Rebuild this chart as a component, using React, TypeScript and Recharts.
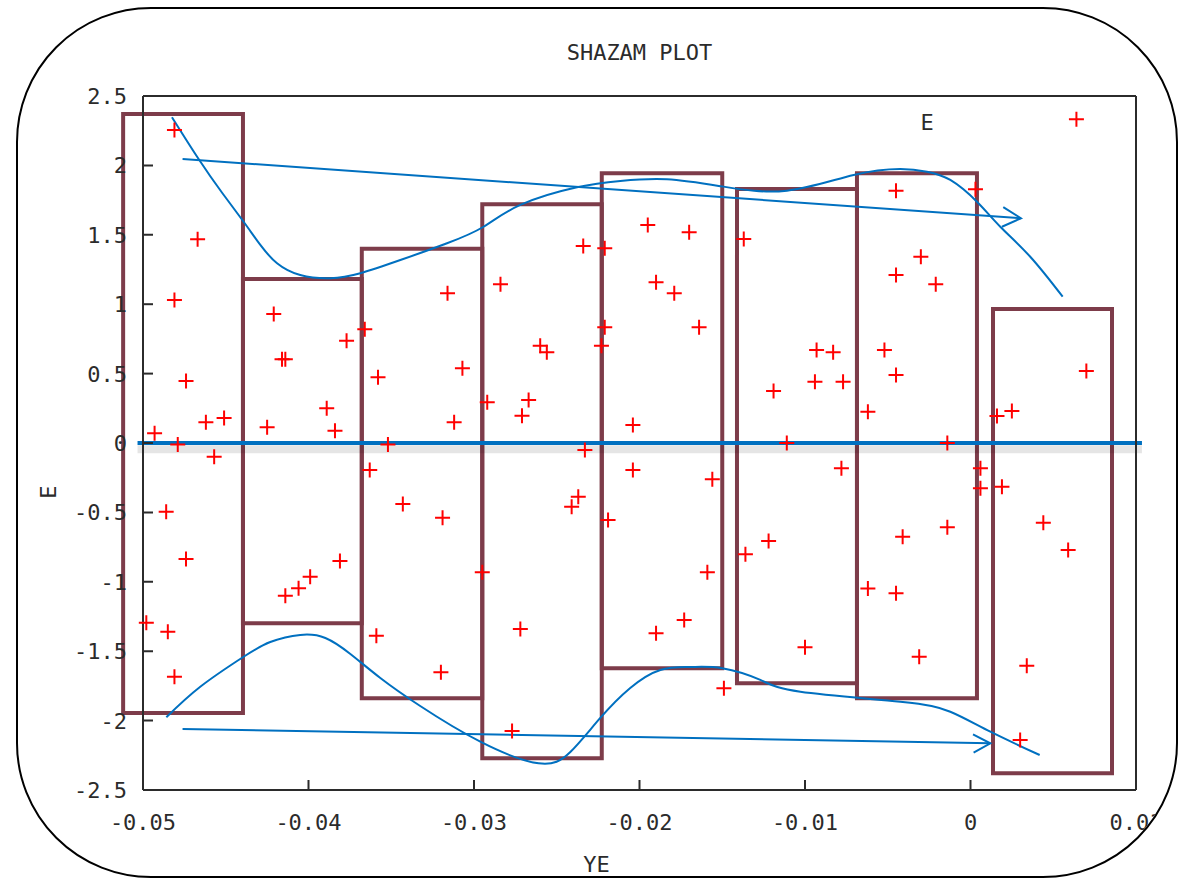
import {
  ComposedChart,
  Line,
  ReferenceArea,
  ReferenceLine,
  Scatter,
  XAxis,
  YAxis,
} from 'recharts'

const W = 1184
const H = 880
const FONT = '"DejaVu Sans Mono", "Liberation Mono", monospace'
const INK = '#2b2b2b'
const BLUE = '#0070c0'
const MAROON = '#7d3c4a'
const TICK = 10

const xTicks = [-0.05, -0.04, -0.03, -0.02, -0.01, 0, 0.01]
const yTicks = [-2.5, -2, -1.5, -1, -0.5, 0, 0.5, 1, 1.5, 2, 2.5]

// observations: YE on x, E on y
const ye = [
  -0.0481, -0.0467, -0.0481, -0.0474, -0.0462, -0.0451, -0.0493, -0.0479, -0.0457, -0.0486, -0.0474, -0.0498, -0.0485, -0.0481,
  -0.0421, -0.0416, -0.0414, -0.0425, -0.0389, -0.0384, -0.0377, -0.0366, -0.0358, -0.0352, -0.0414, -0.0406, -0.0399, -0.0381, -0.0363, -0.0359,
  -0.0316, -0.0307, -0.0312, -0.0284, -0.0292, -0.0267, -0.0271, -0.026, -0.0256, -0.0234, -0.0221, -0.0221, -0.0223, -0.0233, -0.0204, -0.0195,
  -0.0343, -0.0319, -0.0295, -0.032, -0.0272, -0.0277, -0.0237, -0.0241, -0.0219, -0.0204,
  -0.017, -0.019, -0.0179, -0.0164, -0.0137, -0.0093, -0.0083, -0.0094, -0.0077, -0.0119, -0.0062, -0.0045, -0.0045, -0.0052, -0.0045, -0.0111,
  -0.0156, -0.0159, -0.0173, -0.019, -0.0149, -0.0078, -0.0136, -0.0122, -0.01, -0.0062, -0.0045,
  0.0064, 0.0003, -0.003, -0.0021, 0.007, 0.0016, 0.0025, -0.0014, 0.0006, 0.0006, 0.0019, -0.0041, -0.0014, -0.0031, 0.0044, 0.0059, 0.0034, 0.003,
]
const e = [
  2.255, 1.468, 1.03, 0.447, 0.149, 0.18, 0.07, -0.01, -0.099, -0.495, -0.836, -1.295, -1.36, -1.684,
  0.929, 0.603, 0.603, 0.113, 0.25, 0.089, 0.737, 0.819, 0.473, -0.01, -1.1, -1.047, -0.963, -0.85, -0.195, -1.388,
  1.078, 0.538, 0.149, 1.143, 0.293, 0.31, 0.197, 0.701, 0.653, 1.419, 1.403, 0.834, 0.701, -0.05, 0.13, 1.571,
  -0.44, -0.538, -0.931, -1.652, -1.34, -2.075, -0.387, -0.459, -0.555, -0.195,
  1.518, 1.158, 1.078, 0.834, 1.47, 0.67, 0.653, 0.442, 0.442, 0.375, 0.225, 1.818, 1.21, 0.67, 0.49, 0.0,
  -0.262, -0.931, -1.275, -1.371, -1.767, -0.182, -0.802, -0.706, -1.472, -1.049, -1.083,
  2.332, 1.828, 1.342, 1.143, 0.519, 0.195, 0.23, 0.0, -0.182, -0.326, -0.315, -0.675, -0.607, -1.54, -0.574, -0.771, -1.604, -2.14,
]

// range boxes per YE band
const boxLeft = [-0.0512, -0.04396, -0.03678, -0.0295, -0.02228, -0.01411, -0.00686, 0.00136]
const boxRight = [-0.04396, -0.03678, -0.0295, -0.02228, -0.015, -0.00686, 0.00039, 0.00855]
const boxTop = [2.37, 1.182, 1.4, 1.72, 1.943, 1.83, 1.943, 0.965]
const boxBottom = [-1.945, -1.299, -1.839, -2.272, -1.623, -1.731, -1.839, -2.38]

// upper and lower envelope sketches
const upperCurveX = [
  -0.04825, -0.04664, -0.04521, -0.04392, -0.04291, -0.0419, -0.0405, -0.03868, -0.03687, -0.03445, -0.03163,
  -0.02942, -0.0272, -0.02378, -0.02116, -0.01834, -0.01494, -0.01109, -0.00706, -0.00424, -0.00263, -0.00122,
  0.00039, 0.0018, 0.00361, 0.00557,
]
const upperCurveY = [
  2.347, 2.046, 1.801, 1.594, 1.427, 1.295, 1.21, 1.187, 1.223, 1.318, 1.439,
  1.558, 1.715, 1.842, 1.888, 1.9, 1.847, 1.818, 1.931, 1.974, 1.955, 1.895,
  1.738, 1.558, 1.342, 1.054,
]
const lowerCurveX = [
  -0.04859, -0.04654, -0.04392, -0.04231, -0.0405, -0.03898, -0.03747, -0.03566, -0.03325, -0.02962, -0.0261,
  -0.02418, -0.02237, -0.02056, -0.01874, -0.01693, -0.015, -0.0127, -0.01028, -0.00424, -0.00122, 0.0012, 0.00418,
]
const lowerCurveY = [
  -1.976, -1.756, -1.54, -1.434, -1.383, -1.405, -1.52, -1.693, -1.895, -2.152, -2.308,
  -2.226, -1.981, -1.765, -1.635, -1.614, -1.623, -1.707, -1.792, -1.864, -1.936, -2.08, -2.248,
]

// trend arrows: shaft and open head
const upperArrowX = [-0.04761, 0.00305]
const upperArrowY = [2.046, 1.619]
const upperHeadX = [0.00198, 0.00305, 0.0019]
const upperHeadY = [1.7, 1.619, 1.558]
const lowerArrowX = [-0.04761, 0.0012]
const lowerArrowY = [-2.061, -2.164]
const lowerHeadX = [0.000151, 0.0012, 0.000187]
const lowerHeadY = [-2.099, -2.164, -2.231]

const zeroLineX = [-0.05033, 0.01036]

const zip = (xs: number[], ys: number[]) => xs.map((x, i) => ({ x, y: ys[i] }))

const points = zip(ye, e)
const boxes = boxLeft.map((x1, i) => ({ x1, x2: boxRight[i], y1: boxBottom[i], y2: boxTop[i] }))

const fmtX = (v: number) => (v === 0 ? '0' : v.toFixed(2))

const textStyle = { fontFamily: FONT, fontSize: 22, fill: INK }

const BottomTick = ({ x, y, payload }: any) => (
  <g>
    <line x1={x} x2={x} y1={y - 20} y2={y - 20 - TICK} stroke={INK} strokeWidth={2} />
    <text x={x} y={y + 20} textAnchor="middle" {...textStyle}>
      {fmtX(payload.value)}
    </text>
  </g>
)

const LeftTick = ({ x, y, payload }: any) => (
  <g>
    <line x1={x + 16} x2={x + 16 + TICK} y1={y} y2={y} stroke={INK} strokeWidth={2} />
    <text x={x} y={y + 8} textAnchor="end" {...textStyle}>
      {String(payload.value)}
    </text>
  </g>
)

const TopTick = ({ x, y }: any) => (
  <line x1={x} x2={x} y1={y} y2={y + TICK} stroke={INK} strokeWidth={2} />
)

const RightTick = ({ x, y }: any) => (
  <line x1={x} x2={x - TICK} y1={y} y2={y} stroke={INK} strokeWidth={2} />
)

const Plus = ({ cx, cy }: any) => (
  <path
    d={`M${cx - 7.5},${cy}h15M${cx},${cy - 7.5}v15`}
    stroke="#ff0000"
    strokeWidth={2}
    fill="none"
  />
)

const YTitle = ({ viewBox }: any) => {
  const cx = viewBox.x + 5
  const cy = viewBox.y + viewBox.height / 2 + 49
  return (
    <text x={cx} y={cy} dy="0.36em" textAnchor="middle" transform={`rotate(-90 ${cx} ${cy})`} {...textStyle}>
      E
    </text>
  )
}

const KeyTitle = ({ viewBox }: any) => (
  <text x={viewBox.x - 209} y={viewBox.y + 34} textAnchor="middle" {...textStyle}>
    E
  </text>
)

const axisLine = { stroke: INK, strokeWidth: 2 }

function SketchLine({ data, curved, width = 2 }: { data: { x: number; y: number }[]; curved?: boolean; width?: number }) {
  return (
    <Line
      data={data}
      dataKey="y"
      type={curved ? 'natural' : 'linear'}
      stroke={BLUE}
      strokeWidth={width}
      dot={false}
      activeDot={false}
      legendType="none"
      isAnimationActive={false}
    />
  )
}

export default function App() {
  return (
    <div style={{ position: 'absolute', left: 0, top: 0, width: W, height: H, background: '#fff' }}>
      <div
        style={{
          position: 'absolute',
          left: 16,
          top: 7,
          width: 1162,
          height: 871,
          boxSizing: 'border-box',
          border: '2px solid #000',
          borderRadius: 135,
          overflow: 'hidden',
        }}
      >
        <div style={{ position: 'absolute', left: -18, top: -9 }}>
          <ComposedChart width={W} height={H} margin={{ top: 95, right: 47, bottom: 0, left: 43 }}>
            <XAxis
              dataKey="x"
              type="number"
              domain={[-0.05, 0.01]}
              ticks={xTicks}
              interval={0}
              height={90}
              tickSize={0}
              tickMargin={20}
              tick={BottomTick}
              axisLine={axisLine}
              label={{ value: 'YE', position: 'insideBottom', offset: 8, dx: -43, ...textStyle }}
            />
            <XAxis
              xAxisId="top"
              orientation="top"
              dataKey="x"
              type="number"
              domain={[-0.05, 0.01]}
              ticks={xTicks}
              interval={0}
              height={1}
              tickSize={0}
              tickMargin={0}
              tick={TopTick}
              axisLine={axisLine}
              label={{ value: 'SHAZAM PLOT', position: 'top', offset: 35, ...textStyle }}
            />
            <YAxis
              dataKey="y"
              type="number"
              domain={[-2.5, 2.5]}
              ticks={yTicks}
              interval={0}
              width={100}
              tickSize={0}
              tickMargin={16}
              tick={LeftTick}
              axisLine={axisLine}
              label={{ value: 'E', content: YTitle }}
            />
            <YAxis
              yAxisId="right"
              orientation="right"
              dataKey="y"
              type="number"
              domain={[-2.5, 2.5]}
              ticks={yTicks}
              interval={0}
              width={1}
              tickSize={0}
              tickMargin={0}
              tick={RightTick}
              axisLine={axisLine}
              label={{ value: 'E', content: KeyTitle }}
            />

            {boxes.map((b, i) => (
              <ReferenceArea
                key={i}
                x1={b.x1}
                x2={b.x2}
                y1={b.y1}
                y2={b.y2}
                stroke={MAROON}
                strokeWidth={4}
                fill="none"
                fillOpacity={0}
                ifOverflow="visible"
              />
            ))}

            <Scatter data={points} dataKey="y" shape={Plus} legendType="none" isAnimationActive={false} />

            <SketchLine data={zip(upperCurveX, upperCurveY)} curved />
            <SketchLine data={zip(lowerCurveX, lowerCurveY)} curved />
            <SketchLine data={zip(upperArrowX, upperArrowY)} />
            <SketchLine data={zip(upperHeadX, upperHeadY)} />
            <SketchLine data={zip(lowerArrowX, lowerArrowY)} />
            <SketchLine data={zip(lowerHeadX, lowerHeadY)} />

            {/* soft shadow under the zero line */}
            <ReferenceLine
              segment={[
                { x: zeroLineX[0], y: -0.045 },
                { x: zeroLineX[1], y: -0.045 },
              ]}
              stroke="#000"
              strokeOpacity={0.1}
              strokeWidth={8}
              ifOverflow="visible"
            />
            <ReferenceLine
              segment={[
                { x: zeroLineX[0], y: 0 },
                { x: zeroLineX[1], y: 0 },
              ]}
              stroke={BLUE}
              strokeWidth={4}
              ifOverflow="visible"
            />
          </ComposedChart>
        </div>
      </div>
    </div>
  )
}
